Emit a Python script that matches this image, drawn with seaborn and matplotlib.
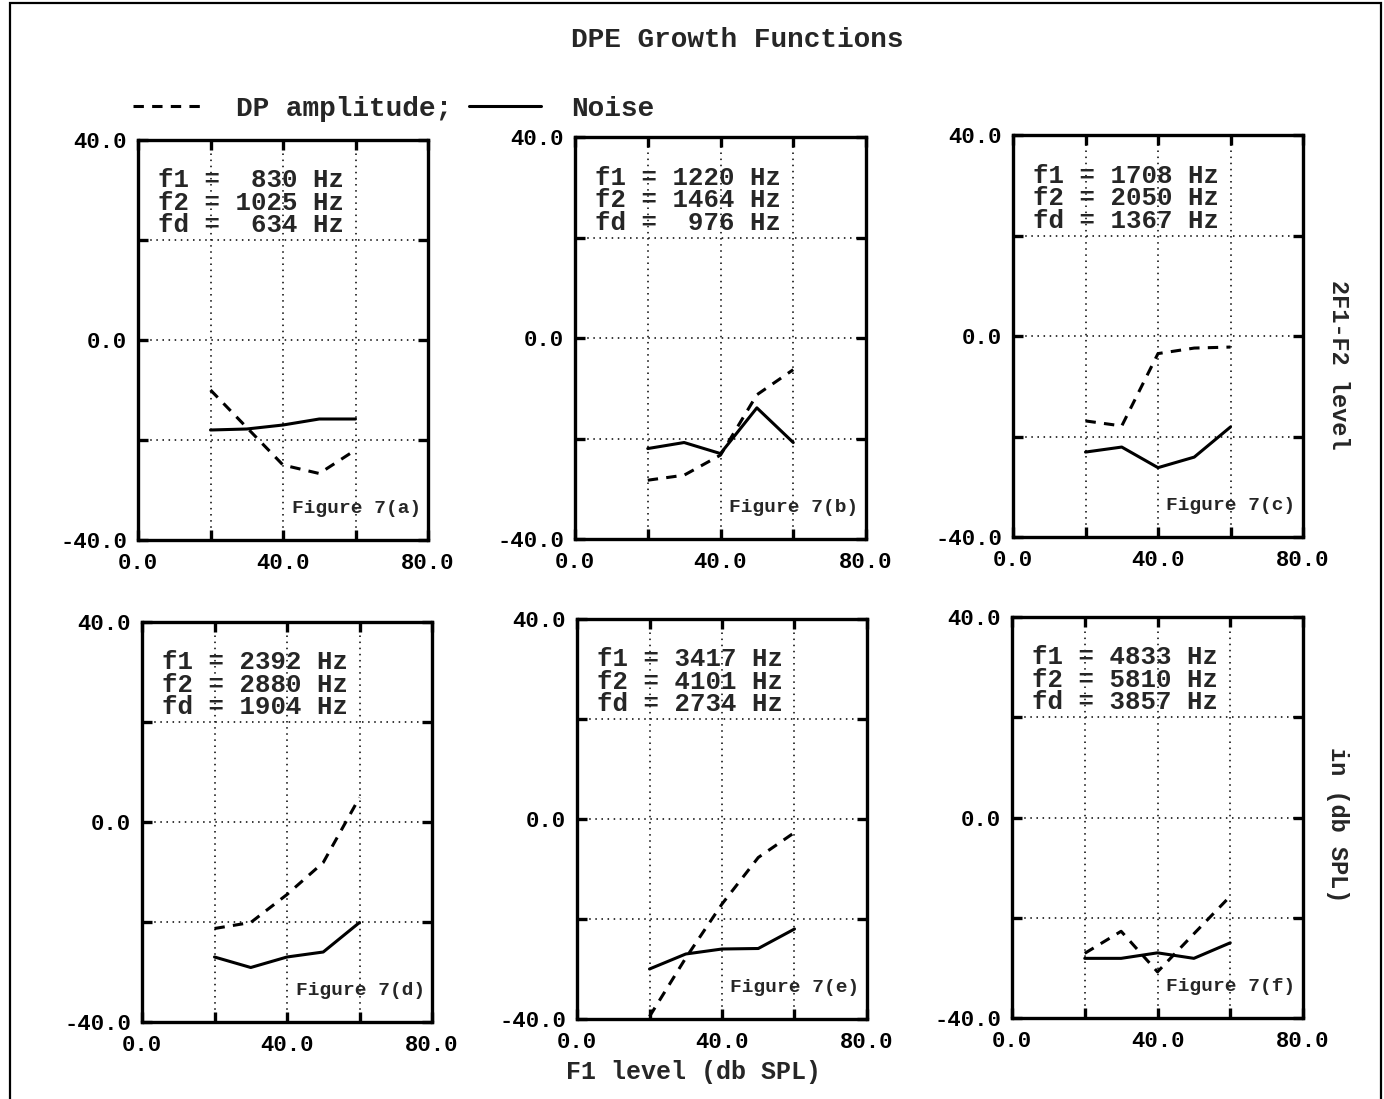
import numpy as np
import pandas as pd
import matplotlib
matplotlib.use("Agg")
import matplotlib.pyplot as plt
import seaborn as sns
from matplotlib.patches import Rectangle

# ---------------- data ----------------
f1_level = [20, 30, 40, 50, 60]

panel_tags = ["a", "b", "c", "d", "e", "f"]
f1_hz = [830, 1220, 1708, 2392, 3417, 4833]
f2_hz = [1025, 1464, 2050, 2880, 4101, 5810]
fd_hz = [634, 976, 1367, 1904, 2734, 3857]

dp_a = [-10.0, -17.5, -25.0, -26.7, -22.0]
noise_a = [-18.0, -17.8, -17.0, -15.8, -15.8]
dp_b = [-28.3, -27.3, -23.3, -11.3, -6.3]
noise_b = [-22.0, -20.8, -23.0, -13.9, -20.8]
dp_c = [-16.9, -17.9, -3.5, -2.4, -2.2]
noise_c = [-23.1, -22.1, -26.2, -24.1, -18.1]
dp_d = [-21.3, -20.1, -14.5, -8.1, 4.9]
noise_d = [-27.0, -29.1, -27.0, -26.0, -20.1]
dp_e = [-39.5, -27.8, -17.0, -7.7, -2.7]
noise_e = [-30.0, -27.0, -26.0, -25.9, -22.0]
dp_f = [-27.1, -22.7, -30.8, -23.2, -15.7]
noise_f = [-28.1, -28.1, -27.0, -28.1, -25.0]

dp_series = [dp_a, dp_b, dp_c, dp_d, dp_e, dp_f]
noise_series = [noise_a, noise_b, noise_c, noise_d, noise_e, noise_f]

x_ticks = [0, 20, 40, 60, 80]
x_ticklabels = ["0.0", "", "40.0", "", "80.0"]
y_ticks = [-40, -20, 0, 20, 40]
y_ticklabels = ["-40.0", "", "0.0", "", "40.0"]

title = "DPE Growth Functions"
xlabel = "F1 level (db SPL)"
ylabel_top = "2F1-F2 level"
ylabel_bottom = "in (db SPL)"
legend_labels = ["DP amplitude;", "Noise"]

# ---------------- style ----------------
sns.set_theme(style="white")
plt.rcParams["font.family"] = ["Liberation Mono", "DejaVu Sans Mono"]
plt.rcParams["font.weight"] = "bold"

W, H = 1384, 1099
fig = plt.figure(figsize=(W / 100, H / 100), dpi=100)
fig.patch.set_facecolor("white")

# page frame
fig.add_artist(Rectangle((10 / W, -0.05), (1381 - 10) / W, 1.05 - 3 / H,
                         transform=fig.transFigure, fill=False,
                         edgecolor="black", linewidth=1.6))

# axes boxes in pixels: left, top, right, bottom
boxes = [
    (138, 140, 428, 540),
    (575, 137, 866, 539),
    (1013, 135, 1303, 537),
    (142, 622, 432, 1022),
    (577, 619, 867, 1019),
    (1012, 617, 1303, 1018),
]

dash = (0, (3.4, 2.7))
lw = 2.2
handles = None
for i, (l, t, r, b) in enumerate(boxes):
    ax = fig.add_axes([l / W, 1 - b / H, (r - l) / W, (b - t) / H])
    df = pd.DataFrame({"level": f1_level, "dp": dp_series[i], "noise": noise_series[i]})
    sns.lineplot(data=df, x="level", y="dp", ax=ax, color="black",
                 linewidth=lw, linestyle=dash, label=legend_labels[0], legend=False)
    sns.lineplot(data=df, x="level", y="noise", ax=ax, color="black",
                 linewidth=lw, linestyle="-", label=legend_labels[1], legend=False)
    ax.set_xlim(0, 80)
    ax.set_ylim(-40, 40)
    ax.set_xticks(x_ticks)
    ax.set_xticklabels(x_ticklabels)
    ax.set_yticks(y_ticks)
    ax.set_yticklabels(y_ticklabels)
    ax.tick_params(direction="in", length=7, width=2.4, top=True, right=True,
                   bottom=True, left=True, labelsize=16, colors="black")
    ax.tick_params(axis="x", pad=9.5)
    ax.tick_params(axis="y", pad=8)
    for lab in ax.get_xticklabels() + ax.get_yticklabels():
        lab.set_fontweight("bold")
    ax.grid(True, color="black", linestyle=(0, (1, 3)), linewidth=1.1)
    for s in ax.spines.values():
        s.set_linewidth(2.4)
        s.set_color("black")
    ax.set_xlabel("")
    ax.set_ylabel("")
    info = (f"f1 = {f1_hz[i]:4d} Hz\n"
            f"f2 = {f2_hz[i]:4d} Hz\n"
            f"fd = {fd_hz[i]:4d} Hz")
    ax.text(0.069, 0.843, info, transform=ax.transAxes, fontsize=18.5,
            fontweight="bold", va="center", ha="left", linespacing=0.92)
    ax.text(0.975, 0.078, f"Figure 7({panel_tags[i]})", transform=ax.transAxes,
            fontsize=14, fontweight="bold", va="center", ha="right")
    if handles is None:
        handles = ax.get_lines()[:2]

fig.text(737 / W, 1 - 40 / H, title, ha="center", va="center",
         fontsize=20, fontweight="bold")
fig.text(693 / W, 1 - 1072 / H, xlabel, ha="center", va="center",
         fontsize=18, fontweight="bold")
fig.text(1338 / W, 1 - 365 / H, ylabel_top, ha="center", va="center",
         rotation=-90, fontsize=17, fontweight="bold")
fig.text(1338 / W, 1 - 825 / H, ylabel_bottom, ha="center", va="center",
         rotation=-90, fontsize=17, fontweight="bold")

leg = fig.legend(handles=handles, labels=legend_labels,
                 loc="center left", bbox_to_anchor=(133 / W, 1 - 109 / H),
                 ncol=2, frameon=False, fontsize=20, handlelength=2.6,
                 handletextpad=1.1, columnspacing=0.6, borderpad=0,
                 borderaxespad=0)
for t in leg.get_texts():
    t.set_fontweight("bold")

fig.savefig("out.png", dpi=100, facecolor="white")
